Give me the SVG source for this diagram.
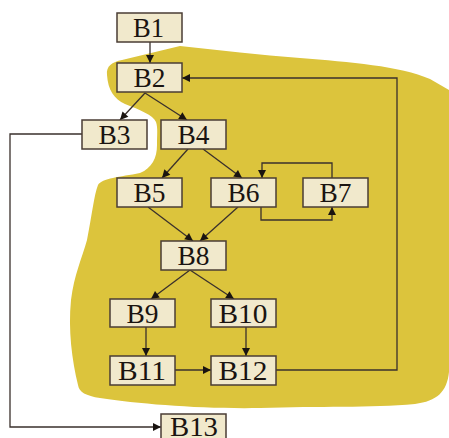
<svg xmlns="http://www.w3.org/2000/svg" width="449" height="438" viewBox="0 0 449 438">
<style>
.bg{fill:#ffffff}
.blob{fill:#dcc43c}
.box{fill:#f1e9cc;stroke:#4a3d35;stroke-width:1.5}
.lbl{font-family:"Liberation Serif","Times New Roman",serif;font-size:27px;fill:#1a1410;text-anchor:middle}
.ln{fill:none;stroke:#3a302c;stroke-width:1.3}
</style>
<defs>
<marker id="ah" viewBox="0 0 10 10" refX="10" refY="5" markerWidth="10" markerHeight="8" markerUnits="userSpaceOnUse" orient="auto">
<path d="M0,0 L10,5 L0,10 Z" fill="#1a1410"/>
</marker>
</defs>
<rect class="bg" x="0" y="0" width="449" height="438"/>
<path class="blob" d="M107,75 C106,66 112,62 122,60 L180,46 C220,50 260,55 300,58 C350,62 400,66 430,79 L449,90 L449,372 C447,392 437,401 415,404 C370,408 320,406 260,408 C200,409 140,404 100,398 C86,396 79,392 78,385 C72,360 68,330 71,300 C74,275 82,258 87,240 C92,215 94,195 98,185 C102,178 120,177 140,173 C152,168 157,158 157,145 C157,135 158,128 156,122 C153,115 140,110 125,104 C114,99 108,90 107,75 Z"/>
<g id="connectors">
<path class="ln" d="M150,42 L150,63" marker-end="url(#ah)"/>
<path class="ln" d="M145,93 L120,120" marker-end="url(#ah)"/>
<path class="ln" d="M145,93 L187,120" marker-end="url(#ah)"/>
<path class="ln" d="M82,134 L10,134 L10,427 L161,427" marker-end="url(#ah)"/>
<path class="ln" d="M276,370 L397,370 L397,78 L182,78" marker-end="url(#ah)"/>
<path class="ln" d="M188,149 L162,178" marker-end="url(#ah)"/>
<path class="ln" d="M203,149 L242,178" marker-end="url(#ah)"/>
<path class="ln" d="M332,178 L332,163 L262,163 L262,178" marker-end="url(#ah)"/>
<path class="ln" d="M261,207 L261,220 L332,220 L332,207" marker-end="url(#ah)"/>
<path class="ln" d="M148,207 L193,241" marker-end="url(#ah)"/>
<path class="ln" d="M238,207 L200,241" marker-end="url(#ah)"/>
<path class="ln" d="M190,270 L151,299" marker-end="url(#ah)"/>
<path class="ln" d="M190,270 L234,299" marker-end="url(#ah)"/>
<path class="ln" d="M146,327 L146,356" marker-end="url(#ah)"/>
<path class="ln" d="M246,327 L246,356" marker-end="url(#ah)"/>
<path class="ln" d="M175,370 L211,370" marker-end="url(#ah)"/>
</g>
<g id="B1"><rect class="box" x="117" y="13" width="65" height="29"/><text class="lbl" x="148.5" y="37" textLength="31" lengthAdjust="spacingAndGlyphs">B1</text></g>
<g id="B2"><rect class="box" x="117" y="63" width="65" height="29"/><text class="lbl" x="149.5" y="87" textLength="32" lengthAdjust="spacingAndGlyphs">B2</text></g>
<g id="B3"><rect class="box" x="82" y="120" width="65" height="29"/><text class="lbl" x="114.5" y="144" textLength="32" lengthAdjust="spacingAndGlyphs">B3</text></g>
<g id="B4"><rect class="box" x="161" y="120" width="65" height="29"/><text class="lbl" x="193.5" y="144" textLength="32" lengthAdjust="spacingAndGlyphs">B4</text></g>
<g id="B5"><rect class="box" x="117" y="178" width="65" height="29"/><text class="lbl" x="149.5" y="202" textLength="32" lengthAdjust="spacingAndGlyphs">B5</text></g>
<g id="B6"><rect class="box" x="211" y="178" width="65" height="29"/><text class="lbl" x="243.5" y="202" textLength="32" lengthAdjust="spacingAndGlyphs">B6</text></g>
<g id="B7"><rect class="box" x="303" y="178" width="65" height="29"/><text class="lbl" x="335.5" y="202" textLength="32" lengthAdjust="spacingAndGlyphs">B7</text></g>
<g id="B8"><rect class="box" x="161" y="241" width="65" height="29"/><text class="lbl" x="193.5" y="265" textLength="32" lengthAdjust="spacingAndGlyphs">B8</text></g>
<g id="B9"><rect class="box" x="110" y="299" width="65" height="28"/><text class="lbl" x="142.5" y="323" textLength="32" lengthAdjust="spacingAndGlyphs">B9</text></g>
<g id="B10"><rect class="box" x="211" y="299" width="65" height="28"/><text class="lbl" x="243" y="323" textLength="49" lengthAdjust="spacingAndGlyphs">B10</text></g>
<g id="B11"><rect class="box" x="110" y="356" width="65" height="29"/><text class="lbl" x="142" y="380" textLength="48" lengthAdjust="spacingAndGlyphs">B11</text></g>
<g id="B12"><rect class="box" x="211" y="356" width="65" height="29"/><text class="lbl" x="243" y="380" textLength="49" lengthAdjust="spacingAndGlyphs">B12</text></g>
<g id="B13"><rect class="box" x="161" y="414" width="65" height="29"/><text class="lbl" x="194" y="436" textLength="48" lengthAdjust="spacingAndGlyphs">B13</text></g>
</svg>
